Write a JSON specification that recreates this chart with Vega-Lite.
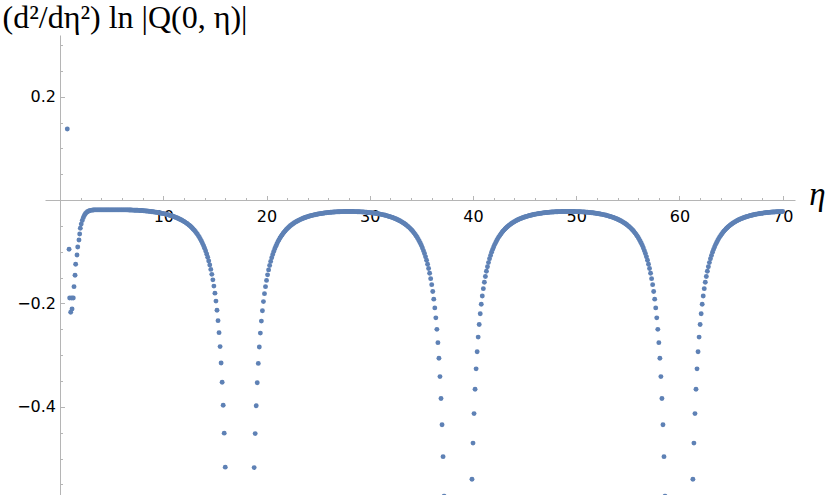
{
"$schema": "https://vega.github.io/schema/vega-lite/v6.json",
"width": 750, "height": 460,
"autosize": {"type": "none"},
"padding": {"left": 45, "top": 35, "right": 36, "bottom": 0},
"background": "white",
"config": {"view": {"stroke": null}},
"data": {"values": [
{"eta":0.7,"v":0.1375},{"eta":0.87,"v":-0.0952},{"eta":0.93,"v":-0.1894},{"eta":1.03,"v":-0.2171},{"eta":1.13,"v":-0.1894},{"eta":1.16,"v":-0.2107},{"eta":1.28,"v":-0.1894},{"eta":1.35,"v":-0.1675},{"eta":1.45,"v":-0.1455},{"eta":1.51,"v":-0.1242},{"eta":1.64,"v":-0.1062},{"eta":1.71,"v":-0.0907},{"eta":1.83,"v":-0.0772},{"eta":1.9,"v":-0.0656},{"eta":1.96,"v":-0.0545},
{"eta":2.05,"v":-0.0465},{"eta":2.15,"v":-0.0395},{"eta":2.25,"v":-0.034},{"eta":2.35,"v":-0.0298},{"eta":2.45,"v":-0.0266},{"eta":2.55,"v":-0.0243},{"eta":2.65,"v":-0.0226},{"eta":2.75,"v":-0.0214},{"eta":2.85,"v":-0.0206},{"eta":2.95,"v":-0.02},
{"eta":3.1,"v":-0.0195},{"eta":3.2,"v":-0.0193},{"eta":3.3,"v":-0.0191},{"eta":3.4,"v":-0.019},{"eta":3.5,"v":-0.019},{"eta":3.6,"v":-0.019},{"eta":3.7,"v":-0.019},{"eta":3.8,"v":-0.019},{"eta":3.9,"v":-0.019},{"eta":4.0,"v":-0.019},{"eta":4.1,"v":-0.019},{"eta":4.2,"v":-0.019},{"eta":4.3,"v":-0.019},{"eta":4.4,"v":-0.019},{"eta":4.5,"v":-0.019},{"eta":4.6,"v":-0.019},{"eta":4.7,"v":-0.019},{"eta":4.8,"v":-0.019},{"eta":4.9,"v":-0.019},{"eta":5.0,"v":-0.019},{"eta":5.1,"v":-0.019},{"eta":5.2,"v":-0.019},{"eta":5.3,"v":-0.019},{"eta":5.4,"v":-0.019},{"eta":5.5,"v":-0.019},{"eta":5.6,"v":-0.019},{"eta":5.7,"v":-0.019},{"eta":5.8,"v":-0.019},{"eta":5.9,"v":-0.019},{"eta":6.0,"v":-0.019},{"eta":6.1,"v":-0.019},{"eta":6.2,"v":-0.019},{"eta":6.3,"v":-0.019},{"eta":6.4,"v":-0.019},
{"eta":6.5,"v":-0.0191},{"eta":6.6,"v":-0.0191},{"eta":6.7,"v":-0.0192},{"eta":6.8,"v":-0.0193},{"eta":6.9,"v":-0.0193},{"eta":7.0,"v":-0.0194},{"eta":7.1,"v":-0.0195},{"eta":7.2,"v":-0.0196},{"eta":7.3,"v":-0.0196},{"eta":7.4,"v":-0.0197},{"eta":7.5,"v":-0.0198},{"eta":7.6,"v":-0.0199},{"eta":7.7,"v":-0.0201},{"eta":7.8,"v":-0.0202},{"eta":7.9,"v":-0.0203},{"eta":8.0,"v":-0.0205},{"eta":8.1,"v":-0.0207},{"eta":8.2,"v":-0.0209},{"eta":8.3,"v":-0.0211},{"eta":8.4,"v":-0.0213},{"eta":8.5,"v":-0.0215},{"eta":8.6,"v":-0.0217},{"eta":8.7,"v":-0.022},{"eta":8.8,"v":-0.0222},{"eta":8.9,"v":-0.0225},{"eta":9.0,"v":-0.0227},{"eta":9.1,"v":-0.023},{"eta":9.2,"v":-0.0233},{"eta":9.3,"v":-0.0236},{"eta":9.4,"v":-0.0239},{"eta":9.5,"v":-0.0242},{"eta":9.6,"v":-0.0246},{"eta":9.7,"v":-0.025},{"eta":9.8,"v":-0.0254},{"eta":9.9,"v":-0.0258},{"eta":10.0,"v":-0.0262},
{"eta":10.1,"v":-0.0267},{"eta":10.2,"v":-0.0271},{"eta":10.3,"v":-0.0276},{"eta":10.4,"v":-0.0281},{"eta":10.5,"v":-0.0287},{"eta":10.6,"v":-0.0293},{"eta":10.7,"v":-0.0299},{"eta":10.8,"v":-0.0305},{"eta":10.9,"v":-0.0312},{"eta":11.0,"v":-0.0319},{"eta":11.1,"v":-0.0327},{"eta":11.2,"v":-0.0335},{"eta":11.3,"v":-0.0343},{"eta":11.4,"v":-0.0352},{"eta":11.5,"v":-0.0361},{"eta":11.6,"v":-0.0371},{"eta":11.7,"v":-0.0381},{"eta":11.8,"v":-0.0391},{"eta":11.9,"v":-0.0402},{"eta":12.0,"v":-0.0414},
{"eta":12.1,"v":-0.0427},{"eta":12.2,"v":-0.0441},{"eta":12.3,"v":-0.0455},{"eta":12.4,"v":-0.047},{"eta":12.5,"v":-0.0486},{"eta":12.6,"v":-0.0503},{"eta":12.7,"v":-0.0522},{"eta":12.8,"v":-0.0542},{"eta":12.9,"v":-0.0563},{"eta":13.0,"v":-0.0585},{"eta":13.1,"v":-0.0609},{"eta":13.2,"v":-0.0635},{"eta":13.3,"v":-0.0663},{"eta":13.4,"v":-0.0693},{"eta":13.5,"v":-0.0724},{"eta":13.6,"v":-0.076},{"eta":13.7,"v":-0.0797},{"eta":13.8,"v":-0.0839},{"eta":13.9,"v":-0.0883},{"eta":14.0,"v":-0.0931},
{"eta":14.1,"v":-0.0984},{"eta":14.2,"v":-0.1043},{"eta":14.3,"v":-0.1107},{"eta":14.4,"v":-0.1177},{"eta":14.5,"v":-0.1255},{"eta":14.6,"v":-0.1342},{"eta":14.7,"v":-0.1437},{"eta":14.8,"v":-0.1544},{"eta":14.9,"v":-0.1665},{"eta":15.0,"v":-0.1801},{"eta":15.1,"v":-0.1955},{"eta":15.2,"v":-0.2131},{"eta":15.3,"v":-0.2333},{"eta":15.4,"v":-0.2565},{"eta":15.5,"v":-0.2835},{"eta":15.6,"v":-0.3151},{"eta":15.7,"v":-0.3525},{"eta":15.8,"v":-0.3971},{"eta":15.9,"v":-0.4509},{"eta":16.0,"v":-0.5167},
{"eta":18.8,"v":-0.5176},{"eta":18.9,"v":-0.4518},{"eta":19.0,"v":-0.398},{"eta":19.1,"v":-0.3534},{"eta":19.2,"v":-0.316},{"eta":19.3,"v":-0.2844},{"eta":19.4,"v":-0.2574},{"eta":19.5,"v":-0.2342},{"eta":19.6,"v":-0.2141},{"eta":19.7,"v":-0.1965},{"eta":19.8,"v":-0.1811},{"eta":19.9,"v":-0.1675},{"eta":20.0,"v":-0.1554},{"eta":20.1,"v":-0.1447},{"eta":20.2,"v":-0.1351},{"eta":20.3,"v":-0.1265},{"eta":20.4,"v":-0.1187},{"eta":20.5,"v":-0.1117},{"eta":20.6,"v":-0.1053},{"eta":20.7,"v":-0.0994},{"eta":20.8,"v":-0.0942},{"eta":20.9,"v":-0.0893},{"eta":21.0,"v":-0.0849},{"eta":21.1,"v":-0.0807},{"eta":21.2,"v":-0.0771},{"eta":21.3,"v":-0.0735},{"eta":21.4,"v":-0.0703},{"eta":21.5,"v":-0.0675},{"eta":21.6,"v":-0.0647},{"eta":21.7,"v":-0.0621},{"eta":21.8,"v":-0.0597},{"eta":21.9,"v":-0.0575},{"eta":22.0,"v":-0.0554},{"eta":22.1,"v":-0.0534},{"eta":22.2,"v":-0.0516},{"eta":22.3,"v":-0.0498},{"eta":22.4,"v":-0.0483},{"eta":22.5,"v":-0.0467},{"eta":22.6,"v":-0.0453},{"eta":22.7,"v":-0.044},{"eta":22.8,"v":-0.0427},{"eta":22.9,"v":-0.0415},{"eta":23.0,"v":-0.0404},{"eta":23.1,"v":-0.0394},{"eta":23.2,"v":-0.0383},{"eta":23.3,"v":-0.0374},{"eta":23.4,"v":-0.0365},{"eta":23.5,"v":-0.0356},{"eta":23.6,"v":-0.0348},{"eta":23.7,"v":-0.0341},{"eta":23.8,"v":-0.0333},{"eta":23.9,"v":-0.0327},{"eta":24.0,"v":-0.032},{"eta":24.1,"v":-0.0314},{"eta":24.2,"v":-0.0308},{"eta":24.3,"v":-0.0302},{"eta":24.4,"v":-0.0297},{"eta":24.5,"v":-0.0292},{"eta":24.6,"v":-0.0287},{"eta":24.7,"v":-0.0283},{"eta":24.8,"v":-0.0278},{"eta":24.9,"v":-0.0274},{"eta":25.0,"v":-0.027},{"eta":25.1,"v":-0.0267},{"eta":25.2,"v":-0.0263},{"eta":25.3,"v":-0.026},{"eta":25.4,"v":-0.0257},{"eta":25.5,"v":-0.0254},{"eta":25.6,"v":-0.0251},{"eta":25.7,"v":-0.0248},{"eta":25.8,"v":-0.0246},{"eta":25.9,"v":-0.0243},{"eta":26.0,"v":-0.0241},{"eta":26.1,"v":-0.0239},{"eta":26.2,"v":-0.0237},{"eta":26.3,"v":-0.0235},{"eta":26.4,"v":-0.0234},{"eta":26.5,"v":-0.0232},{"eta":26.6,"v":-0.0231},{"eta":26.7,"v":-0.0229},{"eta":26.8,"v":-0.0228},{"eta":26.9,"v":-0.0227},{"eta":27.0,"v":-0.0226},{"eta":27.1,"v":-0.0225},{"eta":27.2,"v":-0.0224},{"eta":27.3,"v":-0.0223},{"eta":27.4,"v":-0.0223},{"eta":27.5,"v":-0.0222},{"eta":27.6,"v":-0.0222},{"eta":27.7,"v":-0.0221},{"eta":27.8,"v":-0.0221},{"eta":27.9,"v":-0.0221},
{"eta":28.0,"v":-0.0221},{"eta":28.1,"v":-0.0221},{"eta":28.2,"v":-0.0221},{"eta":28.3,"v":-0.0222},{"eta":28.4,"v":-0.0222},{"eta":28.5,"v":-0.0223},{"eta":28.6,"v":-0.0223},{"eta":28.7,"v":-0.0224},{"eta":28.8,"v":-0.0225},{"eta":28.9,"v":-0.0225},{"eta":29.0,"v":-0.0226},{"eta":29.1,"v":-0.0228},{"eta":29.2,"v":-0.0229},{"eta":29.3,"v":-0.023},{"eta":29.4,"v":-0.0231},{"eta":29.5,"v":-0.0233},{"eta":29.6,"v":-0.0235},{"eta":29.7,"v":-0.0236},{"eta":29.8,"v":-0.0238},{"eta":29.9,"v":-0.024},{"eta":30.0,"v":-0.0243},{"eta":30.1,"v":-0.0245},{"eta":30.2,"v":-0.0247},{"eta":30.3,"v":-0.025},{"eta":30.4,"v":-0.0253},{"eta":30.5,"v":-0.0256},{"eta":30.6,"v":-0.0259},{"eta":30.7,"v":-0.0262},{"eta":30.8,"v":-0.0266},{"eta":30.9,"v":-0.0269},{"eta":31.0,"v":-0.0273},{"eta":31.1,"v":-0.0277},{"eta":31.2,"v":-0.0281},{"eta":31.3,"v":-0.0286},{"eta":31.4,"v":-0.029},{"eta":31.5,"v":-0.0295},{"eta":31.6,"v":-0.0301},{"eta":31.7,"v":-0.0306},{"eta":31.8,"v":-0.0312},{"eta":31.9,"v":-0.0318},{"eta":32.0,"v":-0.0325},{"eta":32.1,"v":-0.0331},{"eta":32.2,"v":-0.0339},{"eta":32.3,"v":-0.0346},{"eta":32.4,"v":-0.0354},{"eta":32.5,"v":-0.0362},{"eta":32.6,"v":-0.0371},{"eta":32.7,"v":-0.0381},{"eta":32.8,"v":-0.039},{"eta":32.9,"v":-0.0401},{"eta":33.0,"v":-0.0412},{"eta":33.1,"v":-0.0424},{"eta":33.2,"v":-0.0436},{"eta":33.3,"v":-0.0449},{"eta":33.4,"v":-0.0463},{"eta":33.5,"v":-0.0478},{"eta":33.6,"v":-0.0494},{"eta":33.7,"v":-0.0511},{"eta":33.8,"v":-0.0528},{"eta":33.9,"v":-0.0547},{"eta":34.0,"v":-0.0568},{"eta":34.1,"v":-0.059},{"eta":34.2,"v":-0.0613},{"eta":34.3,"v":-0.0639},{"eta":34.4,"v":-0.0666},{"eta":34.5,"v":-0.0695},{"eta":34.6,"v":-0.0725},{"eta":34.7,"v":-0.076},{"eta":34.8,"v":-0.0796},{"eta":34.9,"v":-0.0836},{"eta":35.0,"v":-0.0879},{"eta":35.1,"v":-0.0927},{"eta":35.2,"v":-0.0979},{"eta":35.3,"v":-0.1034},{"eta":35.4,"v":-0.1097},{"eta":35.5,"v":-0.1165},{"eta":35.6,"v":-0.1241},{"eta":35.7,"v":-0.1324},{"eta":35.8,"v":-0.1417},{"eta":35.9,"v":-0.1521},{"eta":36.0,"v":-0.1637},{"eta":36.1,"v":-0.1769},{"eta":36.2,"v":-0.1917},{"eta":36.3,"v":-0.2086},{"eta":36.4,"v":-0.2279},{"eta":36.5,"v":-0.2501},{"eta":36.6,"v":-0.2759},{"eta":36.7,"v":-0.306},{"eta":36.8,"v":-0.3415},{"eta":36.9,"v":-0.3838},{"eta":37.0,"v":-0.4346},{"eta":37.1,"v":-0.4964},{"eta":37.2,"v":-0.5727},
{"eta":39.9,"v":-0.5402},{"eta":40.0,"v":-0.4702},{"eta":40.1,"v":-0.4131},{"eta":40.2,"v":-0.366},{"eta":40.3,"v":-0.3266},{"eta":40.4,"v":-0.2934},{"eta":40.5,"v":-0.2651},{"eta":40.6,"v":-0.2408},{"eta":40.7,"v":-0.2199},{"eta":40.8,"v":-0.2016},{"eta":40.9,"v":-0.1855},{"eta":41.0,"v":-0.1714},{"eta":41.1,"v":-0.1589},{"eta":41.2,"v":-0.1478},{"eta":41.3,"v":-0.1378},{"eta":41.4,"v":-0.129},{"eta":41.5,"v":-0.121},{"eta":41.6,"v":-0.1137},{"eta":41.7,"v":-0.1071},{"eta":41.8,"v":-0.1011},{"eta":41.9,"v":-0.0958},{"eta":42.0,"v":-0.0907},{"eta":42.1,"v":-0.0862},{"eta":42.2,"v":-0.0819},{"eta":42.3,"v":-0.0782},{"eta":42.4,"v":-0.0746},{"eta":42.5,"v":-0.0712},{"eta":42.6,"v":-0.0684},{"eta":42.7,"v":-0.0655},{"eta":42.8,"v":-0.0629},{"eta":42.9,"v":-0.0604},{"eta":43.0,"v":-0.0581},{"eta":43.1,"v":-0.056},{"eta":43.2,"v":-0.054},{"eta":43.3,"v":-0.0521},{"eta":43.4,"v":-0.0504},{"eta":43.5,"v":-0.0487},{"eta":43.6,"v":-0.0472},{"eta":43.7,"v":-0.0457},{"eta":43.8,"v":-0.0444},{"eta":43.9,"v":-0.0431},{"eta":44.0,"v":-0.0419},{"eta":44.1,"v":-0.0407},{"eta":44.2,"v":-0.0397},{"eta":44.3,"v":-0.0386},{"eta":44.4,"v":-0.0377},{"eta":44.5,"v":-0.0367},{"eta":44.6,"v":-0.0359},{"eta":44.7,"v":-0.0351},{"eta":44.8,"v":-0.0343},{"eta":44.9,"v":-0.0336},{"eta":45.0,"v":-0.0329},{"eta":45.1,"v":-0.0322},{"eta":45.2,"v":-0.0316},{"eta":45.3,"v":-0.031},{"eta":45.4,"v":-0.0304},{"eta":45.5,"v":-0.0299},{"eta":45.6,"v":-0.0293},{"eta":45.7,"v":-0.0289},{"eta":45.8,"v":-0.0284},{"eta":45.9,"v":-0.028},{"eta":46.0,"v":-0.0275},{"eta":46.1,"v":-0.0272},{"eta":46.2,"v":-0.0268},{"eta":46.3,"v":-0.0264},{"eta":46.4,"v":-0.0261},{"eta":46.5,"v":-0.0258},{"eta":46.6,"v":-0.0255},{"eta":46.7,"v":-0.0252},{"eta":46.8,"v":-0.0249},{"eta":46.9,"v":-0.0246},{"eta":47.0,"v":-0.0244},{"eta":47.1,"v":-0.0242},{"eta":47.2,"v":-0.024},{"eta":47.3,"v":-0.0238},{"eta":47.4,"v":-0.0236},{"eta":47.5,"v":-0.0234},{"eta":47.6,"v":-0.0232},{"eta":47.7,"v":-0.0231},{"eta":47.8,"v":-0.023},{"eta":47.9,"v":-0.0228},{"eta":48.0,"v":-0.0227},{"eta":48.1,"v":-0.0226},{"eta":48.2,"v":-0.0225},{"eta":48.3,"v":-0.0224},{"eta":48.4,"v":-0.0224},{"eta":48.5,"v":-0.0223},{"eta":48.6,"v":-0.0222},{"eta":48.7,"v":-0.0222},{"eta":48.8,"v":-0.0222},{"eta":48.9,"v":-0.0221},{"eta":49.0,"v":-0.0221},{"eta":49.1,"v":-0.0221},{"eta":49.2,"v":-0.0221},
{"eta":49.3,"v":-0.0221},{"eta":49.4,"v":-0.0221},{"eta":49.5,"v":-0.0221},{"eta":49.6,"v":-0.0221},{"eta":49.7,"v":-0.0222},{"eta":49.8,"v":-0.0222},{"eta":49.9,"v":-0.0223},{"eta":50.0,"v":-0.0223},{"eta":50.1,"v":-0.0224},{"eta":50.2,"v":-0.0225},{"eta":50.3,"v":-0.0225},{"eta":50.4,"v":-0.0226},{"eta":50.5,"v":-0.0228},{"eta":50.6,"v":-0.0229},{"eta":50.7,"v":-0.023},{"eta":50.8,"v":-0.0231},{"eta":50.9,"v":-0.0233},{"eta":51.0,"v":-0.0235},{"eta":51.1,"v":-0.0236},{"eta":51.2,"v":-0.0238},{"eta":51.3,"v":-0.024},{"eta":51.4,"v":-0.0243},{"eta":51.5,"v":-0.0245},{"eta":51.6,"v":-0.0247},{"eta":51.7,"v":-0.025},{"eta":51.8,"v":-0.0253},{"eta":51.9,"v":-0.0256},{"eta":52.0,"v":-0.0259},{"eta":52.1,"v":-0.0262},{"eta":52.2,"v":-0.0266},{"eta":52.3,"v":-0.0269},{"eta":52.4,"v":-0.0273},{"eta":52.5,"v":-0.0277},{"eta":52.6,"v":-0.0281},{"eta":52.7,"v":-0.0286},{"eta":52.8,"v":-0.029},{"eta":52.9,"v":-0.0295},{"eta":53.0,"v":-0.0301},{"eta":53.1,"v":-0.0306},{"eta":53.2,"v":-0.0312},{"eta":53.3,"v":-0.0318},{"eta":53.4,"v":-0.0325},{"eta":53.5,"v":-0.0331},{"eta":53.6,"v":-0.0339},{"eta":53.7,"v":-0.0346},{"eta":53.8,"v":-0.0354},{"eta":53.9,"v":-0.0362},{"eta":54.0,"v":-0.0371},{"eta":54.1,"v":-0.0381},{"eta":54.2,"v":-0.039},{"eta":54.3,"v":-0.0401},{"eta":54.4,"v":-0.0412},{"eta":54.5,"v":-0.0424},{"eta":54.6,"v":-0.0436},{"eta":54.7,"v":-0.0449},{"eta":54.8,"v":-0.0463},{"eta":54.9,"v":-0.0478},{"eta":55.0,"v":-0.0494},{"eta":55.1,"v":-0.0511},{"eta":55.2,"v":-0.0528},{"eta":55.3,"v":-0.0547},{"eta":55.4,"v":-0.0568},{"eta":55.5,"v":-0.059},{"eta":55.6,"v":-0.0613},{"eta":55.7,"v":-0.0639},{"eta":55.8,"v":-0.0666},{"eta":55.9,"v":-0.0695},{"eta":56.0,"v":-0.0725},{"eta":56.1,"v":-0.076},{"eta":56.2,"v":-0.0796},{"eta":56.3,"v":-0.0836},{"eta":56.4,"v":-0.0879},{"eta":56.5,"v":-0.0927},{"eta":56.6,"v":-0.0979},{"eta":56.7,"v":-0.1034},{"eta":56.8,"v":-0.1097},{"eta":56.9,"v":-0.1165},{"eta":57.0,"v":-0.1241},{"eta":57.1,"v":-0.1324},{"eta":57.2,"v":-0.1417},{"eta":57.3,"v":-0.1521},{"eta":57.4,"v":-0.1637},{"eta":57.5,"v":-0.1769},{"eta":57.6,"v":-0.1917},{"eta":57.7,"v":-0.2086},{"eta":57.8,"v":-0.2279},{"eta":57.9,"v":-0.2501},{"eta":58.0,"v":-0.2759},{"eta":58.1,"v":-0.306},{"eta":58.2,"v":-0.3415},{"eta":58.3,"v":-0.3838},{"eta":58.4,"v":-0.4346},{"eta":58.5,"v":-0.4964},{"eta":58.6,"v":-0.5727},
{"eta":61.3,"v":-0.5402},{"eta":61.4,"v":-0.4702},{"eta":61.5,"v":-0.4131},{"eta":61.6,"v":-0.366},{"eta":61.7,"v":-0.3266},{"eta":61.8,"v":-0.2934},{"eta":61.9,"v":-0.2651},{"eta":62.0,"v":-0.2408},{"eta":62.1,"v":-0.2199},{"eta":62.2,"v":-0.2016},{"eta":62.3,"v":-0.1855},{"eta":62.4,"v":-0.1714},{"eta":62.5,"v":-0.1589},{"eta":62.6,"v":-0.1478},{"eta":62.7,"v":-0.1378},{"eta":62.8,"v":-0.129},{"eta":62.9,"v":-0.121},{"eta":63.0,"v":-0.1137},{"eta":63.1,"v":-0.1071},{"eta":63.2,"v":-0.1011},{"eta":63.3,"v":-0.0958},{"eta":63.4,"v":-0.0907},{"eta":63.5,"v":-0.0862},{"eta":63.6,"v":-0.0819},{"eta":63.7,"v":-0.0782},{"eta":63.8,"v":-0.0746},{"eta":63.9,"v":-0.0712},{"eta":64.0,"v":-0.0684},{"eta":64.1,"v":-0.0655},{"eta":64.2,"v":-0.0629},{"eta":64.3,"v":-0.0604},{"eta":64.4,"v":-0.0581},{"eta":64.5,"v":-0.056},{"eta":64.6,"v":-0.054},{"eta":64.7,"v":-0.0521},{"eta":64.8,"v":-0.0504},{"eta":64.9,"v":-0.0487},{"eta":65.0,"v":-0.0472},{"eta":65.1,"v":-0.0457},{"eta":65.2,"v":-0.0444},{"eta":65.3,"v":-0.0431},{"eta":65.4,"v":-0.0419},{"eta":65.5,"v":-0.0407},{"eta":65.6,"v":-0.0397},{"eta":65.7,"v":-0.0386},{"eta":65.8,"v":-0.0377},{"eta":65.9,"v":-0.0367},{"eta":66.0,"v":-0.0359},{"eta":66.1,"v":-0.0351},{"eta":66.2,"v":-0.0343},{"eta":66.3,"v":-0.0336},{"eta":66.4,"v":-0.0329},{"eta":66.5,"v":-0.0322},{"eta":66.6,"v":-0.0316},{"eta":66.7,"v":-0.031},{"eta":66.8,"v":-0.0304},{"eta":66.9,"v":-0.0299},{"eta":67.0,"v":-0.0293},{"eta":67.1,"v":-0.0289},{"eta":67.2,"v":-0.0284},{"eta":67.3,"v":-0.028},{"eta":67.4,"v":-0.0275},{"eta":67.5,"v":-0.0272},{"eta":67.6,"v":-0.0268},{"eta":67.7,"v":-0.0264},{"eta":67.8,"v":-0.0261},{"eta":67.9,"v":-0.0258},{"eta":68.0,"v":-0.0255},{"eta":68.1,"v":-0.0252},{"eta":68.2,"v":-0.0249},{"eta":68.3,"v":-0.0246},{"eta":68.4,"v":-0.0244},{"eta":68.5,"v":-0.0242},{"eta":68.6,"v":-0.024},{"eta":68.7,"v":-0.0238},{"eta":68.8,"v":-0.0236},{"eta":68.9,"v":-0.0234},{"eta":69.0,"v":-0.0232},{"eta":69.1,"v":-0.0231},{"eta":69.2,"v":-0.023},{"eta":69.3,"v":-0.0228},{"eta":69.4,"v":-0.0227},{"eta":69.5,"v":-0.0226},{"eta":69.6,"v":-0.0225},{"eta":69.7,"v":-0.0224},{"eta":69.8,"v":-0.0224},{"eta":69.9,"v":-0.0223},{"eta":70.0,"v":-0.0222}
]},
"mark": {"type": "circle", "size": 24, "color": "#5E81B5", "opacity": 1, "clip": true},
"encoding": {
  "x": {"field": "eta", "type": "quantitative",
    "scale": {"domain": [-1.46, 71.19], "nice": false, "zero": false},
    "axis": {"orient": "bottom", "offset": -295, "grid": false,
      "values": [2,4,6,8,10,12,14,16,18,20,22,24,26,28,30,32,34,36,38,40,42,44,46,48,50,52,54,56,58,60,62,64,66,68,70],
      "domainColor": "#b5b5b5", "domainWidth": 1, "tickColor": "#b5b5b5", "tickWidth": 1,
      "tickSize": {"condition": {"test": "datum.value % 10 === 0", "value": -4.5}, "value": -2.5},
      "labelExpr": "datum.value % 10 === 0 ? datum.label : ''",
      "labelFont": "DejaVu Sans", "labelFontSize": 16, "labelColor": "#000000",
      "labelPadding": 13, "labelFlush": false, "labelOverlap": false,
      "title": "η", "titleFont": "Liberation Serif", "titleFontStyle": "italic", "titleFontWeight": "normal",
      "titleFontSize": 33, "titleColor": "#000000", "titleX": 772, "titleY": 4,
      "titleAlign": "center", "titleBaseline": "alphabetic"}},
  "y": {"field": "v", "type": "quantitative",
    "scale": {"domain": [-0.5706, 0.3193], "nice": false, "zero": false},
    "axis": {"orient": "left", "offset": -15, "grid": false,
      "values": [-0.55,-0.5,-0.45,-0.4,-0.35,-0.3,-0.25,-0.2,-0.15,-0.1,-0.05,0.05,0.1,0.15,0.2,0.25,0.3],
      "format": ".1f",
      "domainColor": "#b5b5b5", "domainWidth": 1, "tickColor": "#b5b5b5", "tickWidth": 1,
      "tickSize": {"condition": {"test": "abs(datum.value*5 - round(datum.value*5)) < 0.001", "value": -4.5}, "value": -2.5},
      "labelExpr": "abs(datum.value*5 - round(datum.value*5)) < 0.001 ? datum.label : ''",
      "labelFont": "DejaVu Sans", "labelFontSize": 16, "labelColor": "#000000",
      "labelPadding": 9, "labelFlush": false, "labelOverlap": false,
      "title": "(d²/dη²) ln |Q(0, η)|", "titleFont": "Liberation Serif", "titleFontWeight": "normal",
      "titleFontSize": 32, "titleColor": "#000000", "titleAngle": 0, "titleX": -58, "titleY": -8,
      "titleAlign": "left", "titleBaseline": "alphabetic"}}
}
}
